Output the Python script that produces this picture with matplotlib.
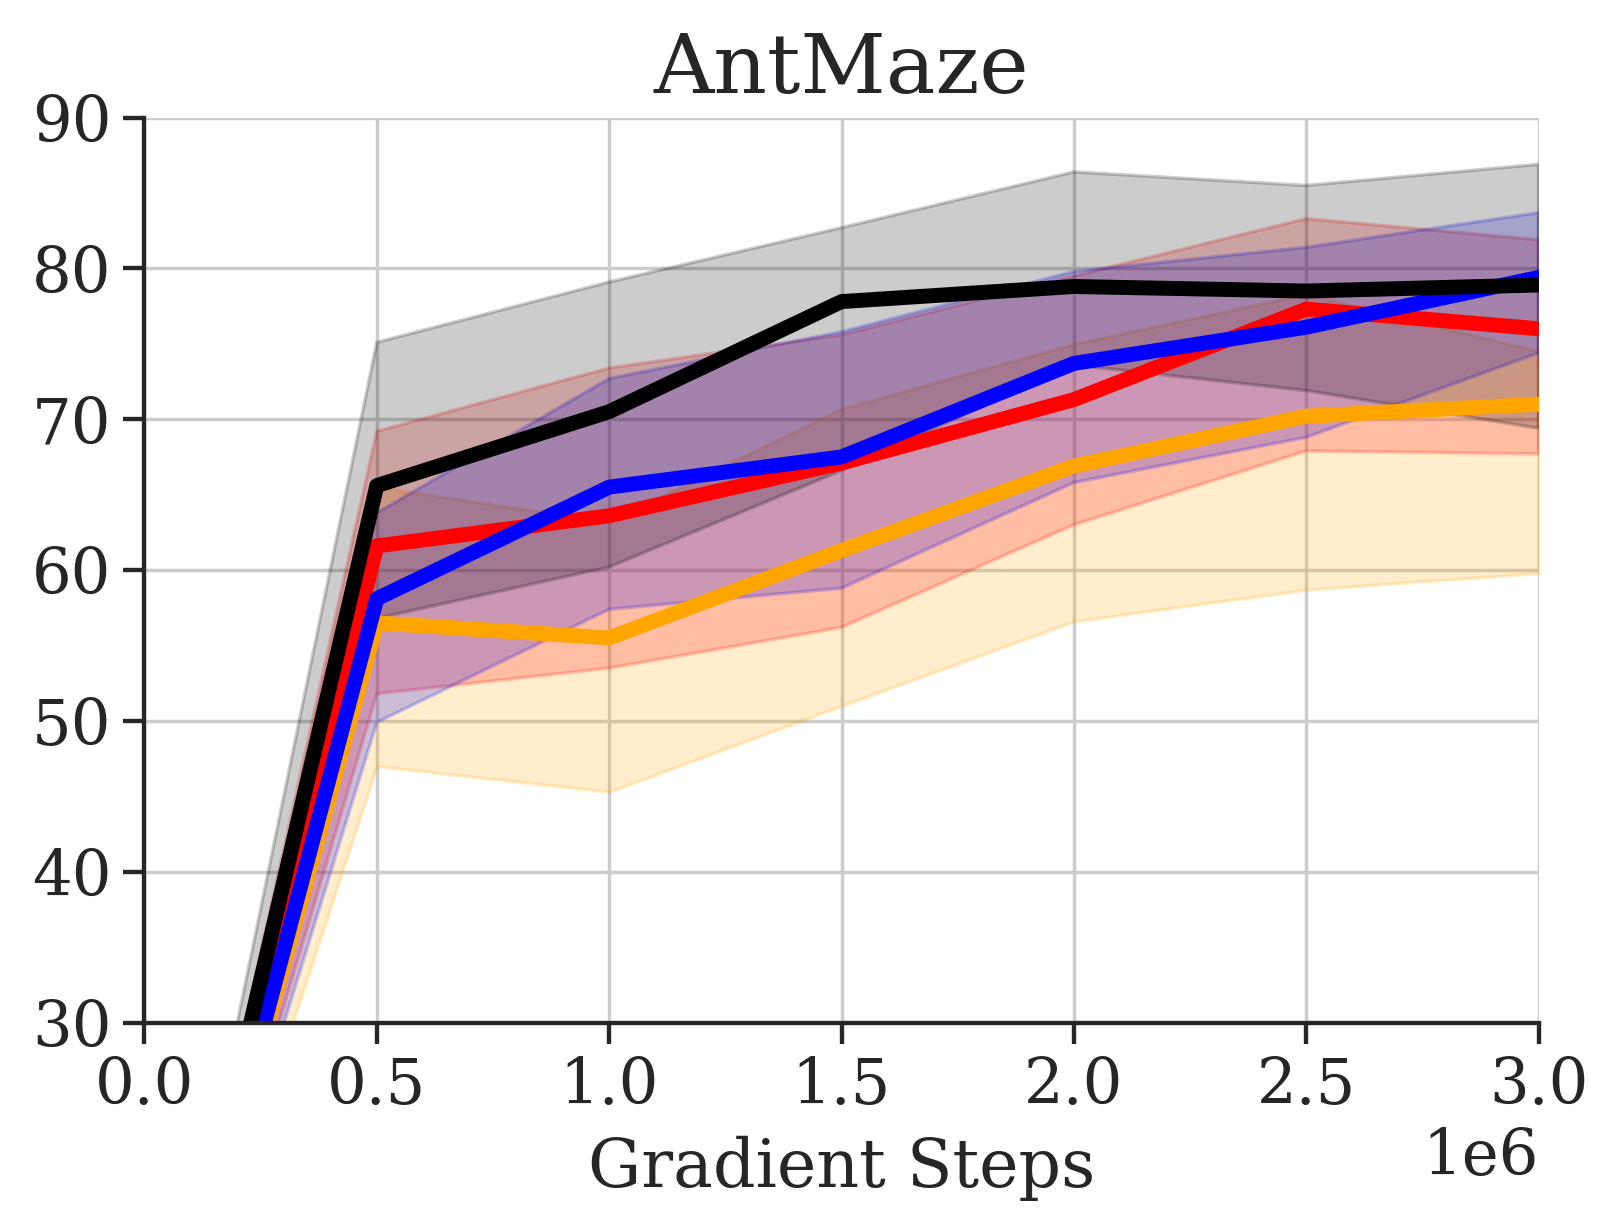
import numpy as np
import matplotlib
matplotlib.use("Agg")
import matplotlib.pyplot as plt

# data (success rate, mean and band edges)
steps = [0, 0.5e6, 1.0e6, 1.5e6, 2.0e6, 2.5e6, 3.0e6]

orange_mean = [0, 56.5, 55.5, 61.3, 66.9, 70.2, 71.0]
orange_lo = [0, 47.0, 45.3, 51.0, 56.6, 58.7, 59.8]
orange_hi = [0, 65.5, 63.2, 70.7, 75.0, 78.3, 74.5]

red_mean = [0, 61.6, 63.6, 67.1, 71.3, 77.3, 76.0]
red_lo = [0, 51.8, 53.5, 56.2, 63.0, 67.9, 67.7]
red_hi = [0, 69.2, 73.4, 75.6, 79.5, 83.3, 81.9]

blue_mean = [0, 58.1, 65.5, 67.5, 73.7, 76.1, 79.4]
blue_lo = [0, 49.9, 57.4, 58.8, 65.8, 68.8, 74.4]
blue_hi = [0, 63.8, 72.7, 75.8, 79.8, 81.4, 83.7]

black_mean = [0, 65.6, 70.5, 77.8, 78.8, 78.5, 78.9]
black_lo = [0, 56.8, 60.2, 66.6, 73.6, 71.9, 69.4]
black_hi = [0, 75.1, 79.1, 82.7, 86.4, 85.5, 86.9]

series = [
    ("orange", orange_mean, orange_lo, orange_hi),
    ("red", red_mean, red_lo, red_hi),
    ("blue", blue_mean, blue_lo, blue_hi),
    ("black", black_mean, black_lo, black_hi),
]

plt.rcParams["font.family"] = "serif"
plt.rcParams["font.serif"] = ["DejaVu Serif"]
plt.rcParams["text.color"] = ".15"
plt.rcParams["axes.labelcolor"] = ".15"
plt.rcParams["xtick.color"] = ".15"
plt.rcParams["ytick.color"] = ".15"

fig = plt.figure(figsize=(6.472, 4.924), dpi=250)
ax = fig.add_axes([0.0893, 0.1693, 0.8616, 0.7352])

for c, m, lo, hi in series:
    ax.fill_between(steps, lo, hi, color=c, alpha=0.2)
for c, m, lo, hi in series:
    ax.plot(steps, m, color=c, lw=4.3)

ax.set_xlim(0, 3e6)
ax.set_ylim(30, 90)
ax.grid(True, color=".8", lw=1.0)
ax.set_axisbelow(True)

for s in ["top", "right"]:
    ax.spines[s].set_visible(False)
for s in ["left", "bottom"]:
    ax.spines[s].set_color(".15")
    ax.spines[s].set_linewidth(1.25)
ax.tick_params(direction="out", length=6, width=1.25, labelsize=18)
ax.xaxis.get_offset_text().set_fontsize(18)

ax.set_xlabel("Gradient Steps", fontsize=19.2, labelpad=5.5)
ax.set_title("AntMaze", fontsize=24, pad=7)

fig.savefig("out.png", dpi=250)
